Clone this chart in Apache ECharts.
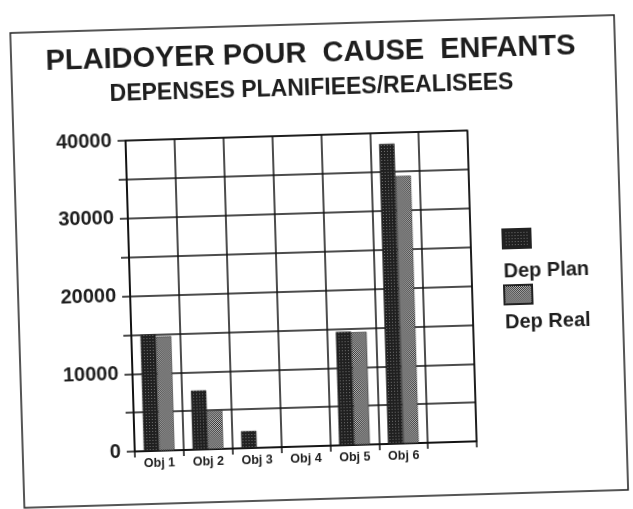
<!DOCTYPE html>
<html>
<head>
<meta charset="utf-8">
<script src="https://cdn.jsdelivr.net/npm/echarts@6/dist/echarts.min.js"></script>
<style>
  html, body { margin: 0; padding: 0; background: #fff; overflow: hidden; }
  /* the scanned page is a little skewed */
  #main { width: 633px; height: 509px; transform: rotate(-1.7deg); }
</style>
</head>
<body>
<div id="main"></div>
<script>
// data
var categories = ['Obj 1', 'Obj 2', 'Obj 3', 'Obj 4', 'Obj 5', 'Obj 6', ''];
var depPlan = [15000, 7600, 2200, 0, 14600, 38600, null];
var depReal = [14700, 5000, 0, 0, 14500, 34400, null];
var seriesNames = ['Dep Plan', 'Dep Real'];
var yTicks = [0, 10000, 20000, 30000, 40000];

// dotted fill like the old printer pattern
function makePattern(dark, light, step) {
    var c = document.createElement('canvas');
    c.width = step; c.height = step;
    var ctx = c.getContext('2d');
    ctx.fillStyle = dark;
    ctx.fillRect(0, 0, step, step);
    ctx.fillStyle = light;
    ctx.fillRect(0, 0, 1, 1);
    if (step == 2) ctx.fillRect(1, 1, 1, 1);
    return { image: c, repeat: 'repeat' };
}
var planFill = makePattern('#202020', '#707070', 3);
var realFill = makePattern('#2a2a2a', '#c4c4c4', 2);

var myChart = echarts.init(document.getElementById('main'));
var font = 'Liberation Sans, Arial, sans-serif';
var ink = '#1e1e1e';

var option = {
    backgroundColor: '#fff',
    animation: false,
    title: [{
        text: 'PLAIDOYER POUR  CAUSE  ENFANTS',
        left: 'center',
        top: 39,
        padding: 0,
        textStyle: { fontFamily: font, fontSize: 29, fontWeight: 'bold', color: ink }
    }, {
        text: 'DEPENSES PLANIFIEES/REALISEES',
        left: 'center',
        top: 77,
        padding: 0,
        textStyle: { fontFamily: font, fontSize: 23, fontWeight: 'bold', color: ink }
    }],
    legend: [{
        // squares only
        orient: 'vertical',
        left: 502,
        top: 234,
        padding: 0,
        itemGap: 35,
        itemWidth: 28,
        itemHeight: 19,
        icon: 'rect',
        selectedMode: false,
        data: seriesNames,
        formatter: function () { return ''; },
        textStyle: { fontSize: 1 }
    }, {
        // names under the squares
        orient: 'vertical',
        left: 497,
        top: 267,
        padding: 0,
        itemGap: 31,
        itemWidth: 0,
        itemHeight: 0,
        icon: 'rect',
        selectedMode: false,
        data: seriesNames,
        textStyle: { fontFamily: font, fontSize: 20, lineHeight: 20, fontWeight: 'bold', color: ink }
    }],
    graphic: [{
        type: 'rect',
        shape: { x: 17, y: 24, width: 604, height: 475 },
        style: { fill: 'none', stroke: ink, lineWidth: 1.5 },
        silent: true
    }],
    grid: {
        left: 129,
        right: 162,
        top: 135,
        bottom: 63,
        outerBoundsMode: 'none',
        show: true,
        borderColor: '#111',
        borderWidth: 1.5
    },
    xAxis: {
        type: 'category',
        data: categories,
        axisLine: { lineStyle: { color: '#111', width: 1.5 } },
        axisTick: { show: true, length: 6, interval: 0, lineStyle: { color: '#111', width: 1.5 } },
        axisLabel: { interval: 0, margin: 6, fontFamily: font, fontSize: 12.5, fontWeight: 'bold', color: ink },
        splitLine: { show: true, interval: 0, lineStyle: { color: '#111', width: 1.5 } }
    },
    yAxis: {
        type: 'value',
        min: 0,
        max: 40000,
        interval: 5000,
        axisLine: { show: true, lineStyle: { color: '#111', width: 1.5 } },
        axisTick: { show: true, length: 8, lineStyle: { color: '#111', width: 1.5 } },
        axisLabel: {
            margin: 14,
            fontFamily: font, fontSize: 20, fontWeight: 'bold', color: ink,
            formatter: function (v) { return yTicks.indexOf(v) >= 0 ? String(v) : ''; }
        },
        splitLine: { show: true, lineStyle: { color: '#111', width: 1.5 } }
    },
    series: [{
        name: seriesNames[0],
        type: 'bar',
        data: depPlan,
        barGap: '0%',
        barCategoryGap: '37%',
        itemStyle: { color: planFill, borderColor: '#222', borderWidth: 0.5 }
    }, {
        name: seriesNames[1],
        type: 'bar',
        data: depReal,
        itemStyle: { color: realFill, borderColor: '#222', borderWidth: 0.5 }
    }]
};
myChart.setOption(option);
</script>
</body>
</html>
